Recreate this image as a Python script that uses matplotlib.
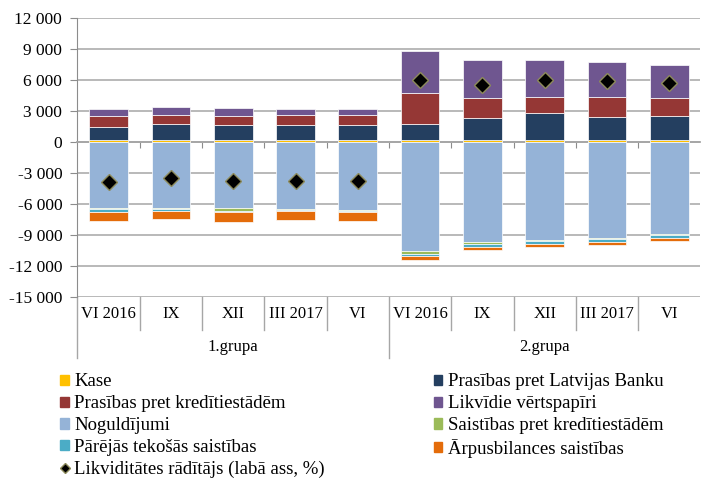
#!/usr/bin/env python3

import numpy as np
import matplotlib
matplotlib.use('Agg')
import matplotlib.pyplot as plt
import matplotlib.transforms as mtransforms
from matplotlib.patches import Patch
from matplotlib.lines import Line2D
from matplotlib.ticker import FuncFormatter, MultipleLocator

plt.rcParams['font.family'] = ['Liberation Serif', 'DejaVu Serif']

# periods per group
periods = ['VI 2016', 'IX', 'XII', 'III 2017', 'VI']
groups = ['1.grupa', '2.grupa']

# assets (positive part), mln EUR
kase = [150, 150, 150, 150, 150, 150, 150, 150, 150, 150]
pras_lb = [1270, 1630, 1500, 1470, 1470, 1630, 2150, 2640, 2280, 2380]
pras_kred = [1110, 850, 840, 1010, 970, 2920, 1950, 1590, 1950, 1720]
likv_vp = [680, 710, 820, 580, 620, 4125, 3700, 3570, 3370, 3180]

# liabilities (negative part)
noguld = [-6370, -6370, -6400, -6530, -6620, -10560, -9680, -9450, -9290, -8900]
saist_kred = [-100, -100, -260, -40, -40, -250, -190, -130, -130, -130]
parejas = [-290, -190, -130, -130, -140, -260, -260, -260, -260, -260]
arpus = [-880, -840, -940, -840, -880, -330, -330, -290, -320, -290]

# liquidity ratio, % (right axis)
likv_rad = [41.2, 42.8, 41.7, 41.6, 41.6, 77.6, 76.0, 77.8, 77.3, 76.6]

colors = {
    'kase': '#FFC000',
    'lb': '#243F60',
    'kred': '#953735',
    'vp': '#6F5690',
    'nog': '#95B3D7',
    'skred': '#9BBB59',
    'par': '#4BACC6',
    'arp': '#E46C0A',
}
fs = 12.5

fig = plt.figure(figsize=(7.04, 4.79), dpi=100)
ax = fig.add_axes([0.110, 0.380, 0.885, 0.5824])

x = np.arange(len(kase))
w = 0.62
edge = dict(edgecolor='white', linewidth=0.5)

bottom = np.zeros(len(x))
pos_series = [(kase, 'kase'), (pras_lb, 'lb'), (pras_kred, 'kred'), (likv_vp, 'vp')]
for vals, key in pos_series:
    ax.bar(x, vals, w, bottom=bottom, color=colors[key], zorder=3, **edge)
    bottom = bottom + np.array(vals)

bottom = np.zeros(len(x))
neg_series = [(noguld, 'nog'), (saist_kred, 'skred'), (parejas, 'par'), (arpus, 'arp')]
for vals, key in neg_series:
    ax.bar(x, vals, w, bottom=bottom, color=colors[key], zorder=3, **edge)
    bottom = bottom + np.array(vals)

ax.set_xlim(-0.5, 9.5)
ax.set_ylim(-15000, 12000)
ax.yaxis.set_major_locator(MultipleLocator(3000))
ax.yaxis.set_major_formatter(FuncFormatter(
    lambda v, p: '{:,.0f}'.format(v).replace(',', ' ')))
ax.grid(axis='y', color='#B3B3B3', linewidth=1.3, zorder=0)
ax.set_axisbelow(True)

for s in ['top', 'right']:
    ax.spines[s].set_visible(False)
ax.spines['left'].set_color('#8C8C8C')
ax.spines['bottom'].set_position(('data', 0))
ax.spines['bottom'].set_color('#A6A6A6')
ax.spines['bottom'].set_linewidth(1.3)

ax.set_xticks(np.arange(0.5, 9.5, 1.0))
ax.set_xticklabels([])
ax.tick_params(axis='x', length=4, direction='out', color='#8C8C8C')
ax.tick_params(axis='y', length=5, direction='out', color='#8C8C8C',
               labelsize=fs, pad=6)

# category labels under the plot
trans = mtransforms.blended_transform_factory(ax.transData, ax.transAxes)
labels = periods * len(groups)
for i, lab in enumerate(labels):
    ax.text(i, -0.062, lab, transform=trans, ha='center', va='center',
            fontsize=12)
for gi, g in enumerate(groups):
    ax.text(gi * 5 + 2, -0.18, g, transform=trans, ha='center', va='center',
            fontsize=12)
for b in np.arange(0.5, 9.5, 1.0):
    if b == 4.5:
        continue
    ax.add_line(Line2D([b, b], [0, -0.118], transform=trans, color='#A6A6A6',
                       linewidth=1.0, clip_on=False))
for b in [-0.5, 4.5]:
    ax.add_line(Line2D([b, b], [0, -0.22], transform=trans, color='#A6A6A6',
                       linewidth=1.0, clip_on=False))

# liquidity ratio on hidden right axis
ax2 = ax.twinx()
ax2.set_ylim(0, 100)
ax2.plot(x, likv_rad, linestyle='none', marker='D', markersize=8.5,
         markerfacecolor='black', markeredgecolor='#8C8A5A',
         markeredgewidth=1.0, zorder=5)
ax2.axis('off')

handles = [
    Patch(color=colors['kase'], label='Kase'),
    Patch(color=colors['kred'], label='Prasības pret kredītiestādēm'),
    Patch(color=colors['nog'], label='Noguldījumi'),
    Patch(color=colors['par'], label='Pārējās tekošās saistības'),
    Line2D([], [], linestyle='none', marker='D', markersize=5.5,
           markerfacecolor='black', markeredgecolor='#8C8A5A',
           label='Likviditātes rādītājs (labā ass, %)'),
    Patch(color=colors['lb'], label='Prasības pret Latvijas Banku'),
    Patch(color=colors['vp'], label='Likvīdie vērtspapīri'),
    Patch(color=colors['skred'], label='Saistības pret kredītiestādēm'),
    Patch(color=colors['arp'], label='Ārpusbilances saistības'),
]
fig.legend(handles=handles, loc='upper left', bbox_to_anchor=(0.075, 0.236),
           ncol=2, frameon=False, fontsize=13.5, handlelength=0.45,
           handleheight=0.45, handletextpad=0.3, labelspacing=0.26,
           columnspacing=5.8, borderaxespad=0)

fig.savefig('out.png', dpi=100)
